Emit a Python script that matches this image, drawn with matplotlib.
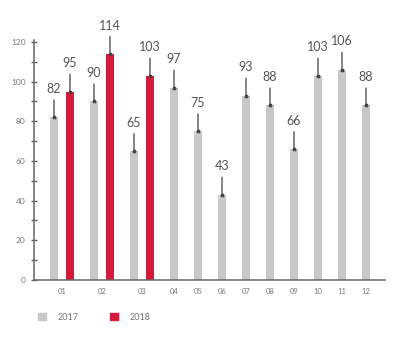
import numpy as np
import matplotlib
matplotlib.use("Agg")
import matplotlib.pyplot as plt
from matplotlib.patches import Patch

months = ["01", "02", "03", "04", "05", "06", "07", "08", "09", "10", "11", "12"]
values_2017 = [82, 90, 65, 97, 75, 43, 93, 88, 66, 103, 106, 88]
values_2018 = [95, 114, 103]
series_names = ["2017", "2018"]

GRAY = "#c8c8c8"
RED = "#d61a3c"
AXIS = "#666666"
TEXT = "#555555"

plt.rcParams["font.family"] = ["Lato", "DejaVu Sans"]

# slot widths: wide for months with two bars, narrow for single bars
n2018 = len(values_2018)
slots = np.array([40 if i < n2018 else 24 for i in range(len(months))], dtype=float)
centers = np.cumsum(slots) - slots / 2 - slots[0] / 2
bar_w = 8
off = 8

x17 = centers.copy()
x17[:n2018] -= off
x18 = centers[:n2018] + off

fig = plt.figure(figsize=(3.94, 3.41), dpi=100)
ax = fig.add_axes([34 / 394, 61 / 341, (385 - 34) / 394, (280 - 40) / 341])

ax.bar(x17, values_2017, width=bar_w, color=GRAY, zorder=2)
ax.bar(x18, values_2018, width=bar_w, color=RED, zorder=2)

for xs, vs in [(x17, values_2017), (x18, values_2018)]:
    for x, v in zip(xs, vs):
        ax.plot(x, v, marker="o", ms=1.8, color="#444444", zorder=4)
        ax.annotate(str(v), xy=(x, v), xytext=(0, 17.5), textcoords="offset points",
                    ha="center", va="baseline", fontsize=9, color=TEXT,
                    arrowprops=dict(arrowstyle="-", color="#444444", lw=0.9,
                                    shrinkA=1.5, shrinkB=0), zorder=3)

ax.set_xlim(-28, 323)
ax.set_ylim(0, 121)

for s in ["top", "right"]:
    ax.spines[s].set_visible(False)
for s in ["left", "bottom"]:
    ax.spines[s].set_color(AXIS)
    ax.spines[s].set_linewidth(1.1)

ax.set_yticks(np.arange(0, 121, 20))
ax.set_yticks(np.arange(10, 120, 20), minor=True)
ax.tick_params(axis="y", which="both", direction="inout", length=4, width=1,
               color=AXIS, labelsize=6, labelcolor="#777777", pad=4)
ax.set_xticks(centers)
ax.set_xticklabels(months)
ax.tick_params(axis="x", length=0, labelsize=5.5, labelcolor="#777777", pad=6)

handles = [Patch(color=GRAY), Patch(color=RED)]
fig.legend(handles, series_names, loc="center left",
           bbox_to_anchor=(33 / 394, (341 - 317) / 341), frameon=False,
           ncol=2, fontsize=6.5, handlelength=0.95, handleheight=0.95,
           handletextpad=1.3, columnspacing=3.4, borderpad=0,
           labelcolor="#777777")

fig.savefig("out.png", dpi=100)
